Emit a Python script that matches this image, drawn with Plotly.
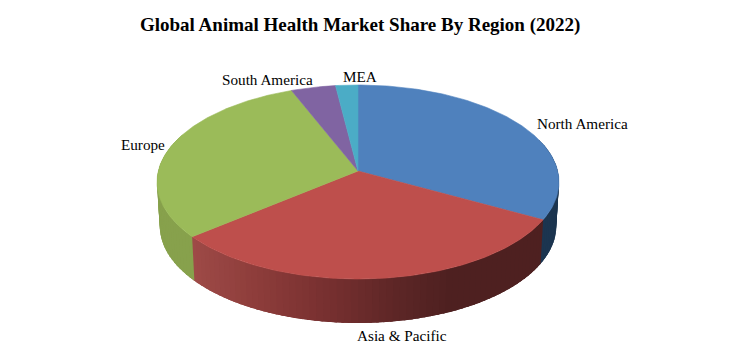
import numpy as np
import plotly.graph_objects as go

TITLE = "Global Animal Health Market Share By Region (2022)"
regions = ["North America", "Asia & Pacific", "Europe", "South America", "MEA"]
shares = [33, 31, 30, 4, 2]
top_colors = ["#4f81bd", "#be4f4c", "#9bbb59", "#8064a2", "#4bacc6"]
# wall colour stops: (image x, colour)
wall_stops = {
    "North America": [(0, (28, 53, 80)), (749, (28, 53, 80))],
    "Asia & Pacific": [(193, (158, 74, 71)), (260, (140, 60, 58)), (330, (118, 47, 47)),
                       (400, (92, 38, 38)), (450, (78, 32, 32)), (749, (78, 32, 32))],
    "Europe": [(0, (135, 161, 76)), (749, (135, 161, 76))],
    "South America": [(0, (90, 70, 115)), (749, (90, 70, 115))],
    "MEA": [(0, (50, 115, 135)), (749, (50, 115, 135))],
}
label_x = [582, 402, 143, 267, 360]
label_y = [123, 335, 144, 79, 76]

# Pie projection (circle seen in perspective)
CX, CY, RX, AY, B = 358.0, 171.0, 199.7, 95.75, -0.1134
DEPTH, WALL_RX = 44.0, 197.0
OVERLAP = np.radians(2.5)


def project(theta, rx=RX, dy=0.0):
    u, v = np.sin(theta), -np.cos(theta)
    w = 1 + B * v
    return CX + rx * u / w, CY + AY * v / w + dy


total = sum(shares)
edges = np.cumsum([0] + shares) / total * 2 * np.pi

fig = go.Figure()


def add_poly(xs, ys, color, width=0.6):
    fig.add_trace(go.Scatter(x=xs, y=ys, mode="lines", fill="toself", fillcolor=color,
                             line=dict(color=color, width=width), hoverinfo="skip", showlegend=False))


# Walls, drawn first so the top surface covers them; each band overlaps the next to hide seams
for name, a0, a1 in zip(regions, edges[:-1], edges[1:]):
    stops = wall_stops[name]
    n = max(2, int(np.degrees(a1 - a0) / 1.8))
    bounds = np.linspace(a0, a1, n + 1)
    for t0, t1 in zip(bounds[:-1], bounds[1:]):
        if np.cos((t0 + t1) / 2) > 0.35:
            continue
        th = np.linspace(t0, t1 + OVERLAP, 6)
        xt, yt = project(th)
        xb, yb = project(th[::-1], rx=WALL_RX, dy=DEPTH)
        mx = float(np.mean(project(np.array([t0, t1]))[0]))
        sx = [s[0] for s in stops]
        rgb = [np.interp(mx, sx, [s[1][i] for s in stops]) for i in range(3)]
        add_poly(np.r_[xt, xb, xt[0]], np.r_[yt, yb, yt[0]],
                 "rgb(%d,%d,%d)" % tuple(int(round(c)) for c in rgb), width=0)

# Top surface
for color, a0, a1 in zip(top_colors, edges[:-1], edges[1:]):
    th = np.linspace(a0, a1, max(4, int(np.degrees(a1 - a0))))
    xr, yr = project(th)
    add_poly(np.r_[CX, xr, CX], np.r_[CY, yr, CY], color)

annotations = [dict(x=x, y=y, text=t, showarrow=False, xref="x", yref="y",
                    font=dict(family="Liberation Serif", size=15.2, color="#000000"))
               for t, x, y in zip(regions, label_x, label_y)]
annotations.append(dict(x=360, y=25, text="<b>%s</b>" % TITLE, showarrow=False, xref="x", yref="y",
                        font=dict(family="Liberation Serif", size=19, color="#000000")))

fig.update_layout(
    width=749, height=362, margin=dict(l=0, r=0, t=0, b=0),
    paper_bgcolor="white", plot_bgcolor="white", showlegend=False,
    xaxis=dict(range=[0, 749], visible=False, fixedrange=True),
    yaxis=dict(range=[362, 0], visible=False, fixedrange=True),
    annotations=annotations,
)
fig.write_html("out.html", config=dict(displayModeBar=False),
               post_script="document.body.style.margin='0';document.documentElement.style.overflow='hidden';")
